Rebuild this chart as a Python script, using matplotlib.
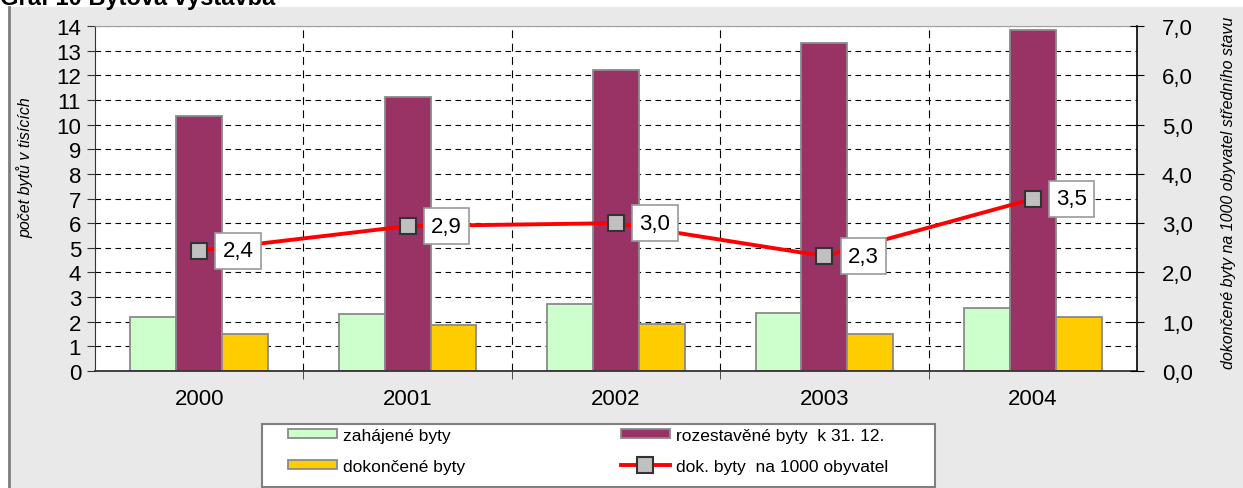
import matplotlib.pyplot as plt
from matplotlib.patches import Rectangle
from matplotlib.lines import Line2D
import numpy as np

plt.rcParams['font.family'] = ['Liberation Sans', 'DejaVu Sans']

# data
years = ['2000', '2001', '2002', '2003', '2004']
zahajene = [2.2, 2.3, 2.7, 2.35, 2.55]          # tis. bytů
rozestavene = [10.35, 11.1, 12.2, 13.3, 13.85]  # tis. bytů k 31.12.
dokoncene = [1.5, 1.85, 1.9, 1.5, 2.2]          # tis. bytů
na_1000 = [2.44, 2.94, 3.0, 2.33, 3.49]         # dok. byty na 1000 obyvatel

W, H = 1243, 489
fig = plt.figure(figsize=(W / 100, H / 100), dpi=100)
fig.patch.set_facecolor('white')

# grey chart frame
fig.patches.append(Rectangle((8 / W, 0), 1, 1 - 8 / H, transform=fig.transFigure,
                             facecolor='#e9e9e9', edgecolor='none', zorder=-10))
fig.lines.append(Line2D([8.5 / W, 8.5 / W], [0, 1 - 8 / H], transform=fig.transFigure,
                        color='#7f7f7f', lw=2, zorder=-9))
fig.text(0.0, 1 - 5 / H, 'Graf 10 Bytová výstavba', fontsize=17, fontweight='bold',
         va='baseline', ha='left')

ax = fig.add_axes([95 / W, 1 - 372 / H, 1042 / W, 345 / H])
ax.set_facecolor('white')
x = np.arange(len(years))
bw = 0.22
edge = dict(edgecolor='#8a8a8a', linewidth=1.3)
b1 = ax.bar(x - bw, zahajene, bw, color='#ccffcc', **edge)
b2 = ax.bar(x, rozestavene, bw, color='#993366', **edge)
b3 = ax.bar(x + bw, dokoncene, bw, color='#ffcc00', **edge)

ax.set_xlim(-0.5, len(years) - 0.5)
ax.set_ylim(0, 14)
ax.set_yticks(range(0, 15))
ax.set_xticks(x)
ax.set_xticklabels(years, fontsize=16)
ax.set_xticks(np.arange(0.5, len(years) - 0.5), minor=True)
ax.tick_params(axis='x', which='major', length=0, pad=12)
ax.tick_params(axis='x', which='minor', length=6, color='#333333')
ax.tick_params(axis='y', labelsize=16, length=6, pad=4, color='#333333')
ax.set_axisbelow(True)
ax.grid(axis='y', which='major', color='black', linestyle=(0, (5, 4)), linewidth=0.8)
ax.grid(axis='x', which='minor', color='black', linestyle=(0, (7, 5)), linewidth=0.8)
ax.spines['top'].set_color('#a0a0a0')
ax.spines['left'].set_color('#333333')
ax.spines['bottom'].set_color('#333333')
ax.spines['bottom'].set_linewidth(1.3)
ax.spines['right'].set_visible(False)

ax2 = ax.twinx()
ax2.set_ylim(0, 7)
ax2.set_yticks(range(0, 8))
ax2.set_yticklabels([f'{v:.1f}'.replace('.', ',') for v in range(0, 8)], fontsize=16)
ax2.tick_params(axis='y', direction='inout', length=10, pad=13, color='black')
ax2.spines['right'].set_color('black')
ax2.spines['right'].set_linewidth(1.2)
for s in ['top', 'left', 'bottom']:
    ax2.spines[s].set_visible(False)

# axis titles
fig.text(25 / W, 1 - 168 / H, 'počet bytů v tisících', rotation=90, fontsize=11.5,
         style='italic', ha='center', va='center')
fig.text(1229 / W, 1 - 193 / H, 'dokončené byty na 1000 obyvatel středního stavu',
         rotation=90, fontsize=11.5, style='italic', ha='center', va='center')

ln, = ax2.plot(x, na_1000, color='#ff0000', lw=2.8, marker='s', markersize=11,
               markerfacecolor='#c0c0c0', markeredgecolor='#333333', markeredgewidth=1.5,
               zorder=5)
for xi, v in zip(x, na_1000):
    ax2.annotate(f'{v:.1f}'.replace('.', ','), (xi, v), xytext=(28, 0),
                 textcoords='offset points', ha='center', va='center', fontsize=16,
                 bbox=dict(boxstyle='square,pad=0.33', facecolor='white',
                           edgecolor='#9a9a9a', linewidth=1.2), zorder=6)

# legend box drawn separately so its size matches the original
fig.patches.append(Rectangle((262 / W, 1 - 488 / H), 673 / W, 63 / H,
                             transform=fig.transFigure, facecolor='white',
                             edgecolor='#808080', linewidth=1.5, zorder=1))
leg = fig.legend([b1, b3, b2, ln],
                 ['zahájené byty', 'dokončené byty', 'rozestavěné byty  k 31. 12.',
                  'dok. byty  na 1000 obyvatel'],
                 ncol=2, loc='upper left', bbox_to_anchor=(288 / W, 1 - 429 / H),
                 fontsize=12.5, frameon=False, handlelength=2.8,
                 handleheight=0.45, handletextpad=0.35, labelspacing=0.9,
                 columnspacing=9.0, borderpad=0, borderaxespad=0)
leg.set_zorder(2)

fig.savefig('out.png', dpi=100, facecolor=fig.get_facecolor())
